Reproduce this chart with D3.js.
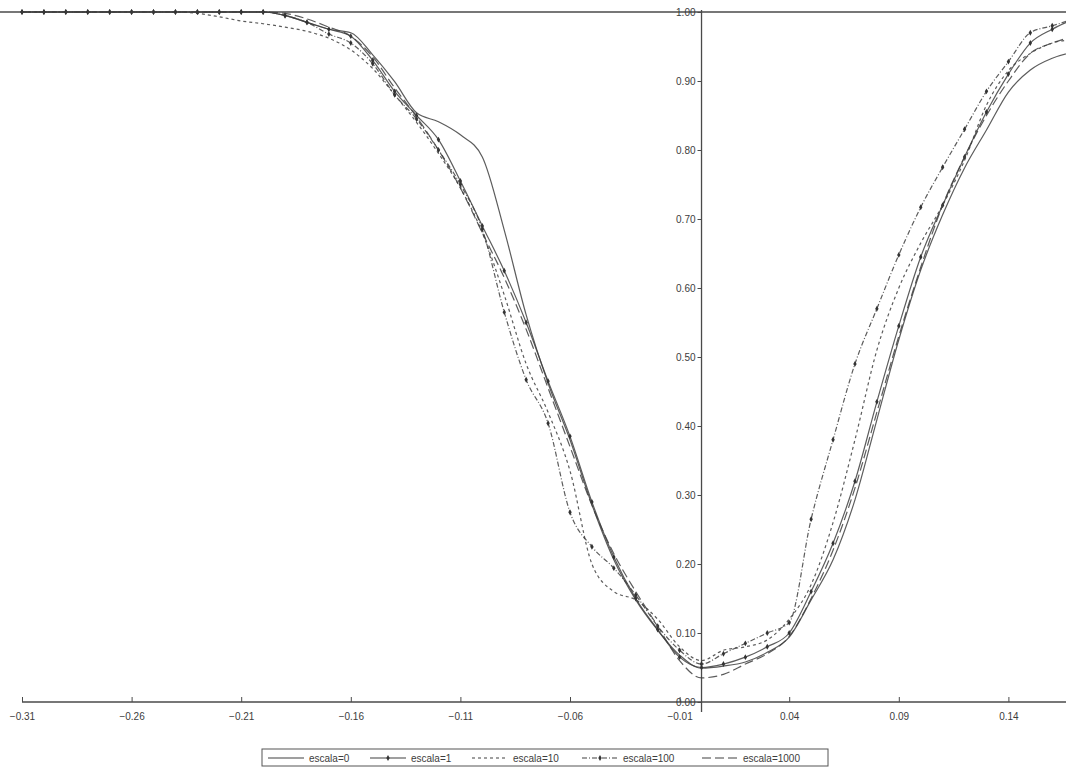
<!DOCTYPE html>
<html>
<head>
<meta charset="utf-8">
<script src="https://cdn.jsdelivr.net/npm/d3@7"></script>
<style>
  html, body { margin: 0; padding: 0; background: #fff; }
  svg { display: block; }
  text { font-family: "Liberation Sans Narrow", "Liberation Sans", Arial, sans-serif; fill: #3c3c3c; }
</style>
</head>
<body>
<svg id="chart" width="1066" height="778"></svg>
<script>
// ---- data ----
const xValues = [-0.31,-0.30,-0.29,-0.28,-0.27,-0.26,-0.25,-0.24,-0.23,-0.22,-0.21,-0.20,-0.19,-0.18,-0.17,-0.16,-0.15,-0.14,-0.13,-0.12,-0.11,-0.10,-0.09,-0.08,-0.07,-0.06,-0.05,-0.04,-0.03,-0.02,-0.01,0.00,0.01,0.02,0.03,0.04,0.05,0.06,0.07,0.08,0.09,0.10,0.11,0.12,0.13,0.14,0.15,0.16,0.17];

const escala0 = [1,1,1,1,1,1,1,1,1,1,1,1,0.995,0.985,0.975,0.97,0.938,0.899,0.854,0.841,0.822,0.79,0.684,0.561,0.462,0.38,0.286,0.206,0.148,0.104,0.068,0.049,0.052,0.058,0.072,0.094,0.148,0.206,0.293,0.409,0.525,0.626,0.706,0.774,0.829,0.884,0.916,0.933,0.942];
const escala1 = [1,1,1,1,1,1,1,1,1,1,1,1,0.995,0.985,0.975,0.965,0.93,0.885,0.85,0.815,0.755,0.69,0.625,0.55,0.465,0.385,0.29,0.21,0.15,0.105,0.065,0.05,0.055,0.065,0.08,0.10,0.16,0.23,0.32,0.435,0.545,0.645,0.72,0.79,0.855,0.91,0.955,0.975,0.99];
const escala10 = [1,1,1,1,1,1,1,1,0.998,0.993,0.987,0.983,0.978,0.972,0.962,0.945,0.918,0.88,0.84,0.795,0.745,0.68,0.59,0.49,0.42,0.335,0.2,0.16,0.148,0.12,0.08,0.06,0.075,0.08,0.09,0.12,0.17,0.26,0.38,0.51,0.6,0.665,0.72,0.785,0.865,0.915,0.94,0.955,0.96];
const escala100 = [1,1,1,1,1,1,1,1,1,1,1,1,0.995,0.985,0.968,0.955,0.925,0.88,0.845,0.80,0.75,0.685,0.565,0.467,0.404,0.275,0.225,0.194,0.155,0.11,0.075,0.055,0.07,0.085,0.10,0.115,0.265,0.38,0.49,0.57,0.648,0.717,0.775,0.83,0.885,0.928,0.97,0.98,0.99];
const escala1000 = [1,1,1,1,1,1,1,1,1,1,1,1,0.998,0.99,0.978,0.965,0.935,0.89,0.848,0.80,0.745,0.68,0.615,0.54,0.455,0.37,0.285,0.215,0.16,0.11,0.06,0.035,0.04,0.055,0.07,0.095,0.15,0.22,0.31,0.42,0.53,0.63,0.72,0.79,0.85,0.90,0.94,0.955,0.965];

const seriesNames = ["escala=0","escala=1","escala=10","escala=100","escala=1000"];
const xTickValues = [-0.31,-0.26,-0.21,-0.16,-0.11,-0.06,-0.01,0.04,0.09,0.14];
const yTickValues = [0,0.1,0.2,0.3,0.4,0.5,0.6,0.7,0.8,0.9,1.0];

// ---- styles per series (presentation only) ----
const styles = [
  {dash: null, marker: false},
  {dash: null, marker: true},
  {dash: "3,3", marker: false},
  {dash: "5,2,1,2", marker: true},
  {dash: "9,4", marker: false}
];
const seriesValues = [escala0, escala1, escala10, escala100, escala1000];

const svg = d3.select("#chart");
const x = d3.scaleLinear().domain([-0.31, 0.17]).range([22, 22 + 0.48 * 2192]);
const y = d3.scaleLinear().domain([0, 1]).range([702, 12]);
const ink = "#4a4a4a";

svg.append("clipPath").attr("id","clip").append("rect")
  .attr("x", 0).attr("y", 0).attr("width", 1066).attr("height", 740);

// top border of plot
svg.append("line").attr("x1", 0).attr("x2", 1066).attr("y1", y(1)).attr("y2", y(1))
  .attr("stroke", ink).attr("stroke-width", 1.6);

// x axis
const xAxis = d3.axisBottom(x).tickValues(xTickValues).tickSizeInner(-5).tickSizeOuter(0)
  .tickFormat(d3.format(".2f"));
const gx = svg.append("g").attr("transform", `translate(0,${y(0)})`).call(xAxis);
gx.select(".domain").attr("stroke", ink).attr("stroke-width", 1.4).attr("d", `M${x(-0.31)},0H1066`);
gx.selectAll(".tick line").attr("stroke", ink);
gx.selectAll(".tick text").attr("y", 11).attr("font-size", 10).attr("fill", "#3c3c3c")
  .style("font-family", "'Liberation Sans Narrow','Liberation Sans',Arial,sans-serif");

// y axis at x = 0
const yAxis = d3.axisLeft(y).tickValues(yTickValues).tickSizeInner(4).tickSizeOuter(0)
  .tickFormat(d3.format(".2f"));
const gy = svg.append("g").attr("transform", `translate(${x(0)},0)`).call(yAxis);
gy.select(".domain").attr("stroke", ink).attr("stroke-width", 1.3).attr("d", `M0,${y(1)-2}V${y(0)+10}`);
gy.selectAll(".tick line").attr("stroke", ink);
gy.selectAll(".tick text").attr("x", -6).attr("font-size", 10).attr("fill", "#3c3c3c")
  .style("font-family", "'Liberation Sans Narrow','Liberation Sans',Arial,sans-serif");

// series
const line = d3.line().x((d, i) => x(xValues[i])).y(d => y(d)).curve(d3.curveMonotoneX);
const plot = svg.append("g").attr("clip-path", "url(#clip)");
seriesValues.forEach((vals, k) => {
  const st = styles[k];
  plot.append("path").datum(vals).attr("d", line)
    .attr("fill", "none").attr("stroke", "#404040").attr("stroke-width", 1.2)
    .attr("stroke-opacity", 0.85)
    .attr("stroke-dasharray", st.dash);
  if (st.marker) {
    plot.selectAll(null).data(vals).enter().append("path")
      .attr("d", d3.symbol(d3.symbolDiamond, 10))
      .attr("transform", (d, i) => `translate(${x(xValues[i])},${y(d)})`)
      .attr("fill", "#333");
  }
});

// legend
const legend = svg.append("g").attr("transform", "translate(262,749)");
legend.append("rect").attr("x", 0).attr("y", 0).attr("width", 566).attr("height", 17)
  .attr("fill", "#fff").attr("stroke", "#555").attr("stroke-width", 1);
const itemX = [6, 108, 210, 320, 440];
seriesNames.forEach((name, k) => {
  const g = legend.append("g").attr("transform", `translate(${itemX[k]},9)`);
  g.append("line").attr("x1", 0).attr("x2", 36).attr("y1", 0).attr("y2", 0)
    .attr("stroke", "#404040").attr("stroke-width", 1.1).attr("stroke-dasharray", styles[k].dash);
  if (styles[k].marker) {
    g.append("path").attr("d", d3.symbol(d3.symbolDiamond, 10)).attr("transform", "translate(18,0)").attr("fill", "#333");
  }
  g.append("text").attr("x", 41).attr("y", 3.5).attr("font-size", 10).text(name);
});
</script>
</body>
</html>
